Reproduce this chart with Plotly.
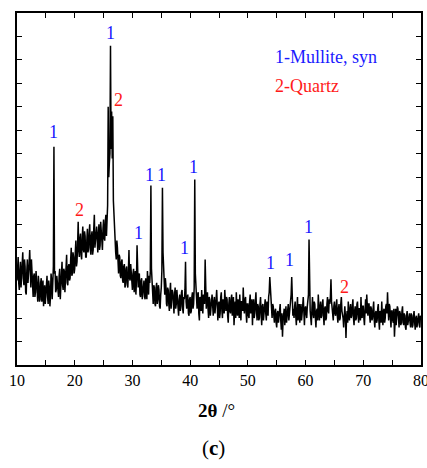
import numpy as np
import plotly.graph_objects as go

# intensity (a.u.) at 2theta = 10.0, 10.2, ..., 80.0 (5 values per degree)
intensity_even = [
    3.6, 4.6, 3.2, 4.4, 3.9,   # 10
    4.8, 3.4, 4.2, 3.0, 4.5,   # 11
    3.8, 4.9, 3.3, 4.1, 2.9,   # 12
    3.9, 3.1, 3.6, 2.7, 3.5,   # 13
    2.8, 3.7, 3.0, 2.5, 3.4,   # 14
    3.0, 3.8, 2.6, 3.3, 2.9,   # 15
    3.6, 3.5, 9.3, 4.0, 3.2,   # 16
    3.5, 2.9, 4.1, 3.3, 4.4,   # 17
    3.2, 4.0, 3.6, 4.7, 3.4,   # 18
    4.3, 3.7, 5.0, 3.9, 4.6,   # 19
    4.1, 5.3, 4.4, 6.1, 4.6,   # 20
    5.6, 4.5, 5.9, 4.8, 5.5,   # 21
    4.6, 5.8, 5.0, 6.0, 4.7,   # 22
    5.7, 4.9, 6.4, 5.2, 5.9,   # 23
    4.8, 6.0, 5.1, 5.7, 4.9,   # 24
    6.2, 5.3, 6.4, 6.0, 11.0,  # 25
    8.6, 13.6, 10.8, 10.6, 6.2,  # 26
    5.6, 4.5, 5.0, 3.9, 4.6,   # 27
    3.7, 4.5, 3.5, 4.3, 3.4,   # 28
    4.2, 3.3, 4.9, 3.6, 4.0,   # 29
    3.2, 4.1, 3.4, 3.0, 5.1,   # 30
    3.3, 3.9, 2.9, 3.7, 3.1,   # 31
    3.6, 2.8, 3.4, 4.0, 3.0,   # 32
    3.5, 7.65, 3.4, 2.6, 3.3,  # 33
    2.5, 3.5, 2.8, 3.2, 2.4,   # 34
    3.3, 7.55, 4.2, 3.0, 3.4,  # 35
    2.5, 3.2, 2.3, 3.5, 2.7,   # 36
    3.1, 2.2, 3.3, 2.6, 2.9,   # 37
    2.1, 3.0, 2.5, 3.2, 2.2,   # 38
    2.8, 4.4, 2.4, 3.0, 2.1,   # 39
    2.9, 2.3, 3.1, 2.6, 7.9,   # 40
    3.5, 2.4, 3.1, 1.9, 2.8,   # 41
    3.2, 2.2, 2.9, 4.5, 2.4,   # 42
    3.1, 2.0, 2.8, 2.3, 3.0,   # 43
    2.1, 2.9, 2.4, 3.2, 1.9,   # 44
    2.7, 2.2, 3.1, 2.0, 2.6,   # 45
    3.2, 2.3, 2.8, 1.8, 2.9,   # 46
    2.2, 3.0, 2.5, 1.7, 2.7,   # 47
    3.1, 2.1, 2.6, 3.0, 1.9,   # 48
    2.7, 3.3, 2.2, 2.9, 1.8,   # 49
    2.6, 2.0, 3.0, 2.3, 1.7,   # 50
    2.8, 2.2, 3.1, 1.9, 2.5,   # 51
    2.0, 2.9, 1.7, 2.6, 2.2,   # 52
    2.8, 1.9, 2.5, 2.9, 3.75,  # 53
    2.7, 2.0, 2.5, 1.8, 2.4,   # 54
    1.6, 2.3, 2.0, 2.6, 1.5,   # 55
    1.2, 2.2, 1.7, 2.5, 2.0,   # 56
    2.6, 2.2, 2.8, 3.75, 2.1,  # 57
    2.0, 2.7, 1.7, 2.9, 2.2,   # 58
    1.8, 2.6, 2.1, 2.9, 1.7,   # 59
    2.5, 2.0, 2.7, 5.35, 2.3,  # 60
    1.7, 2.9, 2.0, 2.6, 1.6,   # 61
    2.4, 3.0, 1.9, 2.7, 2.1,   # 62
    2.8, 1.7, 2.5, 2.0, 2.9,   # 63
    2.2, 2.6, 3.65, 2.3, 1.9,  # 64
    2.7, 2.1, 2.8, 1.8, 2.6,   # 65
    2.0, 2.9, 2.2, 1.6, 2.5,   # 66
    1.15, 2.3, 2.7, 1.9, 2.6,  # 67
    2.1, 2.8, 1.7, 2.5, 2.0,   # 68
    2.7, 1.8, 2.4, 2.9, 2.0,   # 69
    2.5, 1.7, 2.8, 3.0, 2.1,   # 70
    2.6, 1.8, 2.4, 2.0, 2.7,   # 71
    1.6, 2.3, 1.9, 2.6, 1.5,   # 72
    2.2, 2.7, 1.7, 2.4, 2.0,   # 73
    2.6, 3.1, 1.9, 2.5, 1.6,   # 74
    2.3, 1.8, 1.2, 2.4, 2.0,   # 75
    2.4, 1.6, 2.2, 1.8, 2.5,   # 76
    1.7, 2.1, 1.5, 2.3, 1.9,   # 77
    2.2, 1.6, 2.1, 1.7, 2.3,   # 78
    1.5, 2.1, 1.8, 2.2, 1.6,   # 79
    2.0,                       # 80
]

# intensity (a.u.) at 2theta = 10.1, 10.3, ..., 79.9
intensity_odd = [
    4.2, 3.5, 4.0, 3.3, 4.4,   # 10
    3.7, 4.5, 3.1, 4.0, 3.5,   # 11
    4.3, 3.6, 4.5, 3.4, 3.8,   # 12
    2.9, 4.0, 3.0, 3.8, 2.7,   # 13
    3.5, 2.7, 3.6, 3.3, 2.6,   # 14
    3.4, 2.9, 3.6, 2.5, 3.9,   # 15
    2.8, 4.2, 3.9, 3.1, 3.8,   # 16
    3.0, 3.8, 2.8, 4.0, 3.4,   # 17
    4.1, 3.1, 4.4, 3.5, 4.2,   # 18
    3.6, 4.5, 3.8, 4.8, 3.9,   # 19
    4.8, 4.2, 5.1, 4.9, 5.4,   # 20
    4.7, 5.4, 4.9, 5.7, 4.6,   # 21
    5.3, 4.8, 5.6, 4.9, 5.5,   # 22
    4.7, 5.8, 5.0, 5.6, 4.9,   # 23
    5.6, 4.9, 6.1, 5.0, 5.8,   # 24
    5.4, 6.1, 5.5, 6.8, 8.0,   # 25
    9.0, 9.2, 8.8, 7.0, 5.8,   # 26
    4.8, 5.3, 4.1, 4.7, 3.8,   # 27
    4.4, 3.6, 4.2, 3.3, 4.1,   # 28
    3.5, 4.0, 3.7, 4.3, 3.3,   # 29
    3.9, 3.1, 4.0, 3.6, 3.5,   # 30
    3.8, 3.0, 3.6, 2.8, 3.5,   # 31
    2.9, 3.7, 2.8, 3.2, 3.8,   # 32
    4.0, 4.1, 2.7, 3.4, 2.6,   # 33
    3.3, 2.6, 3.4, 2.5, 3.0,   # 34
    4.0, 4.8, 3.6, 3.7, 2.6,   # 35
    3.3, 2.6, 3.1, 2.4, 3.2,   # 36
    2.5, 3.0, 2.4, 3.2, 2.3,   # 37
    2.8, 2.3, 3.1, 2.4, 2.9,   # 38
    3.2, 2.7, 2.9, 2.2, 2.8,   # 39
    2.2, 2.9, 2.4, 3.3, 3.9,   # 40
    2.6, 3.0, 2.2, 2.9, 2.3,   # 41
    2.5, 3.0, 2.6, 3.4, 2.9,   # 42
    2.4, 2.9, 2.1, 2.7, 2.2,   # 43
    2.7, 2.2, 2.8, 2.3, 2.6,   # 44
    2.0, 2.9, 2.3, 2.8, 2.2,   # 45
    2.5, 2.9, 2.1, 2.6, 2.3,   # 46
    2.8, 2.1, 2.9, 2.4, 2.0,   # 47
    2.4, 2.8, 2.0, 2.3, 2.7,   # 48
    2.3, 2.5, 2.8, 2.2, 2.6,   # 49
    2.1, 2.7, 2.2, 2.8, 2.5,   # 50
    2.0, 2.7, 2.3, 2.6, 1.9,   # 51
    2.6, 2.2, 2.5, 1.9, 2.7,   # 52
    2.2, 2.7, 2.1, 3.1, 3.2,   # 53
    2.3, 2.6, 2.1, 2.3, 1.8,   # 54
    2.2, 1.8, 2.4, 1.9, 2.2,   # 55
    1.9, 2.4, 2.1, 1.8, 2.3,   # 56
    1.9, 2.5, 3.0, 3.2, 2.4,   # 57
    2.5, 2.1, 2.4, 1.9, 2.6,   # 58
    2.3, 1.9, 2.5, 2.2, 2.4,   # 59
    2.2, 2.5, 3.0, 3.1, 2.0,   # 60
    2.4, 2.2, 2.7, 2.0, 2.3,   # 61
    1.9, 2.5, 2.4, 2.0, 2.6,   # 62
    2.1, 2.4, 1.9, 2.6, 2.3,   # 63
    2.8, 2.9, 2.7, 2.0, 2.5,   # 64
    2.2, 2.5, 2.1, 2.4, 1.9,   # 65
    2.6, 2.3, 2.0, 2.4, 2.1,   # 66
    2.0, 1.8, 2.2, 2.4, 2.0,   # 67
    2.5, 2.0, 2.3, 1.9, 2.6,   # 68
    2.1, 2.4, 1.9, 2.2, 2.5,   # 69
    2.0, 2.3, 2.2, 2.5, 2.6,   # 70
    2.1, 2.5, 1.9, 2.4, 1.9,   # 71
    2.2, 1.8, 2.4, 1.9, 2.3,   # 72
    1.8, 2.1, 2.3, 1.8, 2.5,   # 73
    2.2, 2.4, 2.6, 2.0, 2.3,   # 74
    1.9, 2.4, 1.8, 1.7, 2.5,   # 75
    1.9, 2.3, 1.7, 2.3, 1.8,   # 76
    2.2, 1.6, 2.1, 1.7, 2.2,   # 77
    1.8, 2.2, 1.6, 2.1, 1.8,   # 78
    2.0, 1.6, 2.2, 1.7, 2.1,   # 79
]

# merge the two read-off grids into one 0.1-degree pattern
two_theta = np.round(np.arange(10.0, 80.0001, 0.1), 1)
intensity = np.empty(len(two_theta))
intensity[0::2] = intensity_even
intensity[1::2] = intensity_odd

# phase labels
label_x = [16.4, 26.12, 27.5, 32.9, 35.1, 40.5, 30.97, 39.1, 20.75, 53.85, 57.3, 60.43, 66.67]
label_y = [9.93, 14.15, 11.29, 8.1, 8.1, 8.44, 5.62, 4.98, 6.6, 4.35, 4.47, 5.88, 3.32]
label_text = ["1", "1", "2", "1", "1", "1", "1", "1", "2", "1", "1", "1", "2"]

legend_lines = ["1-Mullite, syn", "2-Quartz"]
x_tick_values = [10, 20, 30, 40, 50, 60, 70, 80]

BLUE = "#1a1aff"
RED = "#ff1a1a"
SERIF = "Liberation Serif"

fig = go.Figure()
fig.add_trace(go.Scatter(
    x=two_theta, y=intensity, mode="lines",
    line=dict(color="black", width=1.5), hoverinfo="skip", showlegend=False,
))

annotations = []
for xv, yv, t in zip(label_x, label_y, label_text):
    annotations.append(dict(
        x=xv, y=yv, xref="x", yref="y", text=t, showarrow=False,
        font=dict(family=SERIF, size=18, color=BLUE if t == "1" else RED),
        xanchor="center", yanchor="middle",
    ))

annotations.append(dict(x=(273 - 17) / 404, y=(365 - 57) / 352, xref="paper", yref="paper",
                        text=legend_lines[0], showarrow=False, xanchor="left", yanchor="middle",
                        font=dict(family=SERIF, size=18, color=BLUE)))
annotations.append(dict(x=(273 - 17) / 404, y=(365 - 86) / 352, xref="paper", yref="paper",
                        text=legend_lines[1], showarrow=False, xanchor="left", yanchor="middle",
                        font=dict(family=SERIF, size=18, color=RED)))
annotations.append(dict(x=(216 - 17) / 404, y=(365 - 410) / 352, xref="paper", yref="paper",
                        text="<b>2θ</b> /°", showarrow=False, xanchor="center", yanchor="middle",
                        font=dict(family=SERIF, size=19, color="black")))
annotations.append(dict(x=(213 - 17) / 404, y=(365 - 448) / 352, xref="paper", yref="paper",
                        text="(<b>c</b>)", showarrow=False, xanchor="center", yanchor="middle",
                        font=dict(family=SERIF, size=21, color="black")))

fig.update_layout(
    width=427, height=468,
    margin=dict(l=17, r=6, t=13, b=103),
    plot_bgcolor="white", paper_bgcolor="white",
    annotations=annotations,
    showlegend=False,
    font=dict(family=SERIF),
)
fig.update_xaxes(
    range=[10, 80], tickvals=x_tick_values, ticks="inside", ticklen=5, tickwidth=1.3,
    tickcolor="black", showline=True, linecolor="black", linewidth=1.6, mirror="ticks",
    showgrid=False, zeroline=False, automargin=False, ticklabeloverflow="allow",
    tickfont=dict(family=SERIF, size=16, color="black"),
    minor=dict(ticks="inside", dtick=5, ticklen=5, tickwidth=1.3, tickcolor="black", showgrid=False),
)
fig.update_yaxes(
    range=[0, 15], dtick=1, ticks="inside", ticklen=5, tickwidth=1.3, tickcolor="black",
    showline=True, linecolor="black", linewidth=1.6, mirror="ticks",
    showgrid=False, zeroline=False, showticklabels=False, automargin=False,
)

fig.write_html("out.html")
